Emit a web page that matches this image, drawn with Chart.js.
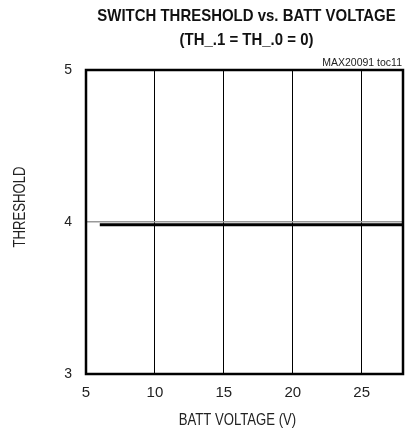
<!DOCTYPE html>
<html>
<head>
<meta charset="utf-8">
<style>
html,body{margin:0;padding:0;background:#fff;}
#wrap{width:406px;height:432px;}
</style>
<script src="https://cdn.jsdelivr.net/npm/chart.js@4.4.1/dist/chart.umd.min.js"></script>
</head>
<body>
<div id="wrap"><canvas id="c" width="406" height="432"></canvas></div>
<script>
const titleLines = ["SWITCH THRESHOLD vs. BATT VOLTAGE", "(TH_.1 = TH_.0 = 0)"];
const noteText = "MAX20091 toc11";
const xAxisTitle = "BATT VOLTAGE (V)";
const yAxisTitle = "THRESHOLD";
const battVoltage = [6, 10, 15, 20, 25, 28];
const threshold = [3.982, 3.982, 3.982, 3.982, 3.982, 3.982];
const xTicks = [5, 10, 15, 20, 25];
const yTicks = [3, 4, 5];
const xMin = 5, xMax = 28, yMin = 3, yMax = 5;

const FONT = "'Liberation Sans', Arial, sans-serif";
const NARROW = 0.82;

function squeezedText(ctx, text, x, y, sx, rot) {
  ctx.save();
  ctx.translate(x, y);
  if (rot) ctx.rotate(rot);
  ctx.scale(sx, 1);
  ctx.fillText(text, 0, 0);
  ctx.restore();
}

const decor = {
  id: 'decor',
  afterDraw(chart) {
    const ctx = chart.ctx, a = chart.chartArea;
    ctx.save();
    ctx.strokeStyle = '#000';
    ctx.lineWidth = 2.5;
    ctx.strokeRect(a.left, a.top, a.right - a.left, a.bottom - a.top);
    const cx = (a.left + a.right) / 2 + 2;
    ctx.fillStyle = '#111';
    ctx.textAlign = 'center';
    ctx.textBaseline = 'middle';
    ctx.font = "bold 17px " + FONT;
    squeezedText(ctx, titleLines[0], cx, 16.5, 0.88, 0);
    squeezedText(ctx, titleLines[1], cx, 40, 0.88, 0);
    // axis titles
    ctx.fillStyle = '#222';
    ctx.font = "16px " + FONT;
    squeezedText(ctx, xAxisTitle, cx - 9, 421, NARROW, 0);
    squeezedText(ctx, yAxisTitle, 21, 207, NARROW, -Math.PI / 2);
    // note
    ctx.font = "10.5px " + FONT;
    ctx.textAlign = 'right';
    ctx.textBaseline = 'middle';
    ctx.fillText(noteText, a.right - 1, 63);
    ctx.restore();
  }
};

new Chart(document.getElementById('c'), {
  type: 'line',
  data: {
    datasets: [{
      data: battVoltage.map((v, i) => ({x: v, y: threshold[i]})),
      borderColor: '#000',
      borderWidth: 3,
      pointRadius: 0,
      fill: false,
      tension: 0
    }]
  },
  options: {
    responsive: false,
    animation: false,
    events: [],
    layout: {padding: {top: 70, right: 3, left: 0, bottom: 0}},
    plugins: {legend: {display: false}, tooltip: {enabled: false}, title: {display: false}},
    scales: {
      x: {
        type: 'linear', min: xMin, max: xMax,
        afterBuildTicks: s => { s.ticks = xTicks.map(v => ({value: v})); },
        afterFit: s => { s.height = 58; },
        grid: {
          drawTicks: false,
          lineWidth: 1,
          color: c => (c.tick && c.tick.value > xMin && c.tick.value < xMax) ? '#000' : 'rgba(0,0,0,0)'
        },
        border: {display: false},
        ticks: {color: '#222', font: {family: FONT, size: 15}, padding: 10, maxRotation: 0, autoSkip: false},
        title: {display: false}
      },
      y: {
        type: 'linear', min: yMin, max: yMax,
        afterBuildTicks: s => { s.ticks = yTicks.map(v => ({value: v})); },
        afterFit: s => { s.width = 86; },
        grid: {
          drawTicks: false,
          lineWidth: 1.5,
          color: c => (c.tick && c.tick.value > yMin && c.tick.value < yMax) ? '#999' : 'rgba(0,0,0,0)'
        },
        border: {display: false},
        ticks: {color: '#222', font: {family: FONT, size: 14}, padding: 14},
        title: {display: false}
      }
    }
  },
  plugins: [decor]
});
</script>
</body>
</html>
